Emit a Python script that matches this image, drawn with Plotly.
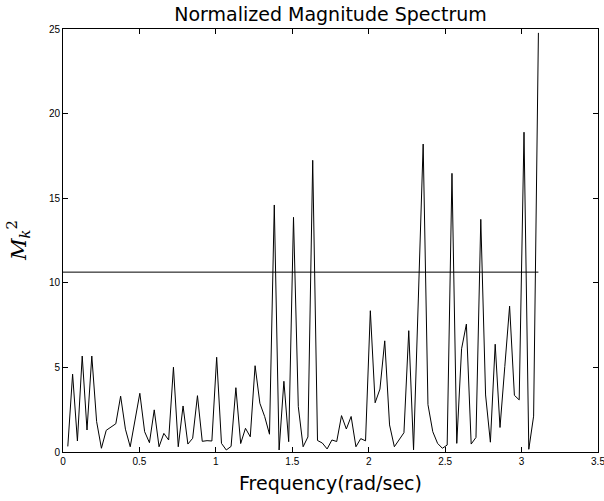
import numpy as np
import plotly.graph_objects as go

# Spectrum samples k = 1..99 at frequency k*pi/100
k_index = list(range(1, 100))
mk2 = [
    0.33, 4.6, 0.65, 5.67, 1.3, 5.67, 1.8, 0.22, 1.28, 1.5,
    1.67, 3.3, 1.35, 0.31, 1.9, 3.47, 1.2, 0.55, 2.49, 0.31,
    1.1, 0.71, 5.01, 0.31, 2.72, 0.47, 0.81, 3.33, 0.63, 0.67,
    0.65, 5.6, 0.51, 0.12, 0.33, 3.8, 0.5, 1.4, 0.9, 5.1,
    2.88, 2.09, 1.05, 14.6, 0.12, 4.18, 0.61, 13.87, 2.68, 0.31,
    0.89, 17.24, 0.68, 0.53, 0.18, 0.71, 0.62, 2.15, 1.36, 2.1,
    0.31, 0.79, 0.66, 8.35, 2.91, 3.72, 6.57, 1.6, 0.31, 0.72,
    1.14, 7.17, 0.13, 9.1, 18.2, 2.8, 1.2, 0.51, 0.22, 0.41,
    16.47, 0.51, 6.1, 7.56, 0.47, 0.86, 13.75, 3.37, 0.58, 6.37,
    1.45, 5.05, 8.62, 3.35, 3.08, 18.9, 0.16, 2.12, 24.77,
]
threshold = 10.63
x_ticks = [0, 0.5, 1, 1.5, 2, 2.5, 3, 3.5]
x_tick_labels = ["0", "0.5", "1", "1.5", "2", "2.5", "3", "3.5"]
y_ticks = [0, 5, 10, 15, 20, 25]

freq = [k * np.pi / 100 for k in k_index]

fig = go.Figure()
fig.add_trace(go.Scatter(x=freq, y=mk2, mode="lines",
                         line=dict(color="black", width=1), showlegend=False))
fig.add_trace(go.Scatter(x=[0, freq[-1]], y=[threshold, threshold], mode="lines",
                         line=dict(color="black", width=1), showlegend=False))

axis_common = dict(showline=True, linecolor="black", linewidth=1, mirror="allticks",
                   ticks="inside", ticklen=5, tickcolor="black", showgrid=False,
                   zeroline=False, ticklabeloverflow="allow", automargin=False,
                   tickfont=dict(family="Liberation Sans", size=10, color="black"))

fig.update_layout(
    width=604, height=501,
    margin=dict(l=63, r=6, t=29, b=49),
    plot_bgcolor="white", paper_bgcolor="white",
    title=dict(text="Normalized Magnitude Spectrum", x=0.5, xref="paper",
               y=1 - 14 / 501, yref="container", yanchor="middle",
               font=dict(family="DejaVu Sans", size=19, color="black")),
    xaxis=dict(range=[0, 3.5], tickvals=x_ticks, ticktext=x_tick_labels, **axis_common),
    yaxis=dict(range=[0, 25], tickvals=y_ticks, **axis_common),
    annotations=[
        dict(text="Frequency(rad/sec)", xref="paper", yref="paper", x=0.5, y=-0.073,
             yanchor="middle", showarrow=False,
             font=dict(family="DejaVu Sans", size=19, color="black")),
        dict(text="<i>M</i><sub><i>k</i></sub><sup>2</sup>", xref="paper", yref="paper",
             x=-0.085, y=0.5, xanchor="center", yanchor="middle", textangle=-90,
             showarrow=False, font=dict(family="DejaVu Serif", size=21, color="black")),
    ],
)

fig.write_html("out.html")
